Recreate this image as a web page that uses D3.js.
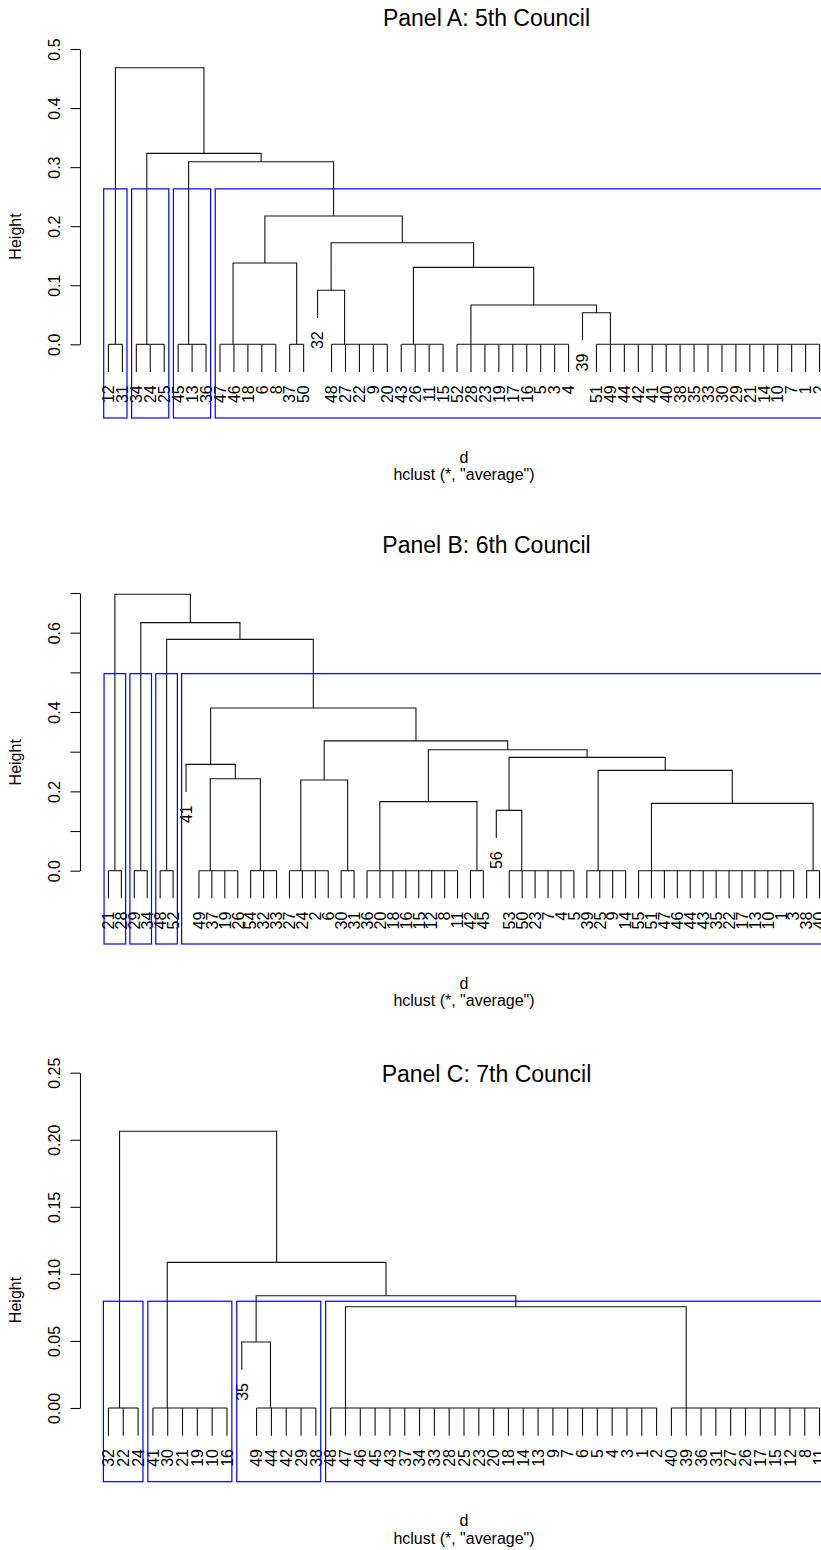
<!DOCTYPE html>
<html><head><meta charset="utf-8">
<script src="https://cdn.jsdelivr.net/npm/d3@7"></script>
<style>html,body{margin:0;padding:0;background:#fff}</style>
</head><body>
<svg id="chart" width="821" height="1550" xmlns="http://www.w3.org/2000/svg"></svg>
<script>
// ---------------- DATA ----------------
const titles = ["Panel A: 5th Council", "Panel B: 6th Council", "Panel C: 7th Council"];
const xlabText = "d";
const subText = 'hclust (*, "average")';
const yLabelText = "Height";
const kClusters = 4;

// Groups: leaves tied at height 0 (display order). Singletons hang from their merge.
// Merges: [left, right, height]; negative = group index (1-based), positive = earlier merge row.
const groupsA = [[12,31],[34,24,25],[45,13,36],[47,46,18,6,8],[37,50],[32],[48,27,22,9,20],
  [43,26,11,15],[52,28,23,19,17,16,5,3,4],[39],[51,49,44,42,41,40,38,35,33,30,29,21,14,10,7,1,2]];
const mergesA = [[-10,-11,0.0535],[-9,1,0.0665],[-6,-7,0.0914],[-8,2,0.1303],[-4,-5,0.1376],
  [3,4,0.1720],[5,6,0.2172],[-3,7,0.3092],[-2,8,0.3233],[-1,9,0.4683]];
const ticksA = [0, 0.1, 0.2, 0.3, 0.4, 0.5];
const tickLabelsA = ["0.0","0.1","0.2","0.3","0.4","0.5"];

const groupsB = [[21,28],[29,34],[48,52],[41],[49,37,19,26],[54,32,33],[27,24,2,6],[30,31],
  [36,20,18,16,15,12,8,11],[42,45],[56],[53,50,23,7,4,5],[39,25,9,14],
  [55,51,47,46,44,43,35,22,17,13,10,1,3],[38,40]];
const mergesB = [[-11,-12,0.1521],[-14,-15,0.1697],[-9,-10,0.1742],[-7,-8,0.2286],[-5,-6,0.2319],
  [-13,2,0.2530],[-4,5,0.2681],[1,6,0.2857],[3,8,0.3050],[4,9,0.3273],[7,10,0.4101],
  [-3,11,0.5832],[-2,12,0.6252],[-1,13,0.6967]];
const ticksB = [0, 0.1, 0.2, 0.3, 0.4, 0.5, 0.6, 0.7];
const tickLabelsB = ["0.0","","0.2","","0.4","","0.6",""];

const groupsC = [[32,22,24],[41,30,21,19,10,16],[35],[49,44,42,29,38],
  [48,47,46,45,43,37,34,33,28,25,23,20,18,14,13,9,7,6,5,4,3,1,2],
  [40,39,36,31,27,26,17,15,12,8,11]];
const mergesC = [[-3,-4,0.0492],[-5,-6,0.0755],[1,2,0.0837],[-2,3,0.1086],[-1,4,0.2063]];
const ticksC = [0, 0.05, 0.10, 0.15, 0.20, 0.25];
const tickLabelsC = ["0.00","0.05","0.10","0.15","0.20","0.25"];

// ---------------- LAYOUT ----------------
const FONT = "'Liberation Sans', Arial, Helvetica, sans-serif";
const PLOT_L = 80, PLOT_R = 848;
const panels = [
  {title: titles[0], groups: groupsA, merges: mergesA, ticks: ticksA, tickLabels: tickLabelsA,
   y0: 344.3, yMax: 0.5, yMaxPx: 49, bottom: 418, titleY: 26, ylabY: 236.5, xlabY: 462.5, subY: 479.5},
  {title: titles[1], groups: groupsB, merges: mergesB, ticks: ticksB, tickLabels: tickLabelsB,
   y0: 870.7, yMax: 0.7, yMaxPx: 593, bottom: 944, titleY: 552.5, ylabY: 762.3, xlabY: 988.5, subY: 1005.5},
  {title: titles[2], groups: groupsC, merges: mergesC, ticks: ticksC, tickLabels: tickLabelsC,
   y0: 1408, yMax: 0.25, yMaxPx: 1072.7, bottom: 1481.7, titleY: 1082, ylabY: 1300, xlabY: 1526, subY: 1543.5}
];

const svg = d3.select("#chart");
const LINE = "#111", BLUE = "#0000ff", FS = 16;

panels.forEach(p => {
  const n = d3.sum(p.groups, g => g.length);
  const pad = 0.04 * (n - 1);
  const x = d3.scaleLinear().domain([1 - pad, n + pad]).range([PLOT_L, PLOT_R]);
  const y = d3.scaleLinear().domain([0, p.yMax]).range([p.y0, p.yMaxPx]);
  const maxH = d3.max(p.merges, m => m[2]);
  const hang = 0.1 * maxH;
  const g = svg.append("g");

  // group positions and chain stems
  let pos = 1;
  const groups = p.groups.map(gr => {
    const start = pos; pos += gr.length;
    let s = start + gr.length - 1;
    for (let i = gr.length - 2; i >= 0; i--) s = (start + i + s) / 2;
    return {start, end: start + gr.length - 1, stem: s, leaves: gr, single: gr.length === 1, leafEnd: -hang};
  });
  const mInfo = [];
  function info(ref) {
    if (ref < 0) { const gr = groups[-ref - 1]; return {x: gr.stem, h: 0, lo: gr.start, hi: gr.end, gr}; }
    return mInfo[ref - 1];
  }
  const paths = [];
  p.merges.forEach(([a, b, h]) => {
    const A = info(a), B = info(b);
    const bottomOf = c => {
      if (c.gr && c.gr.single) { c.gr.leafEnd = h - hang; return h - hang; }
      return c.h;
    };
    const ya = bottomOf(A), yb = bottomOf(B);
    paths.push(`M${x(A.x)},${y(ya)}V${y(h)}H${x(B.x)}V${y(yb)}`);
    mInfo.push({x: (A.x + B.x) / 2, h, lo: Math.min(A.lo, B.lo), hi: Math.max(A.hi, B.hi)});
  });
  // tied groups: horizontal at 0 and leaf drops
  groups.forEach(gr => {
    if (gr.single) return;
    paths.push(`M${x(gr.start)},${y(0)}H${x(gr.end)}`);
    for (let i = gr.start; i <= gr.end; i++) paths.push(`M${x(i)},${y(0)}V${y(-hang)}`);
  });
  g.append("g").selectAll("path").data(paths).join("path")
    .attr("d", d => d).attr("fill", "none").attr("stroke", LINE).attr("stroke-width", 1.1);

  // leaf labels
  const labels = [];
  groups.forEach(gr => gr.leaves.forEach((lab, i) => labels.push({lab, p: gr.start + i, end: gr.leafEnd})));
  const off = 0.833 * FS;
  g.append("g").selectAll("text").data(labels).join("text")
    .attr("transform", d => `translate(${x(d.p)},${y(d.end) + off}) rotate(-90)`)
    .attr("dy", "0.36em").attr("text-anchor", "end")
    .attr("font-family", FONT).attr("font-size", FS).attr("fill", "#000")
    .text(d => d.lab);

  // rect.hclust k=4
  const K = kClusters;
  const m = p.merges.length;
  const topRows = d3.range(m - (K - 1), m); // 0-based rows of top merges
  let clusters = [m];  // 1-based ref of root
  for (let r = m; r > m - (K - 1); r--) {
    const idx = clusters.indexOf(r);
    const [a, b] = p.merges[r - 1];
    clusters.splice(idx, 1, a, b);
  }
  const hs = p.merges.map(d => d[2]).sort((a, b) => b - a);
  const rectTop = (hs[K - 2] + hs[K - 1]) / 2;
  const rects = clusters.map(c => info(c)).sort((a, b) => a.lo - b.lo);
  g.append("g").selectAll("rect").data(rects).join("rect")
    .attr("x", d => x(d.lo - 0.34)).attr("y", y(rectTop))
    .attr("width", d => x(d.hi + 0.33) - x(d.lo - 0.34))
    .attr("height", p.bottom - y(rectTop))
    .attr("fill", "none").attr("stroke", BLUE).attr("stroke-width", 1.2);

  // y axis
  const ax = g.append("g").attr("transform", `translate(${PLOT_L},0)`)
    .call(d3.axisLeft(y).tickValues(p.ticks).tickFormat((d, i) => p.tickLabels[i])
      .tickSizeInner(9.6).tickSizeOuter(0));
  ax.select(".domain").attr("stroke", LINE).attr("stroke-width", 1.1);
  ax.selectAll(".tick line").attr("stroke", LINE).attr("stroke-width", 1.1);
  ax.attr("font-family", FONT).attr("font-size", FS);
  ax.selectAll(".tick text").attr("x", null).attr("dy", null)
    .attr("transform", "translate(-20,0) rotate(-90)")
    .attr("text-anchor", "middle").attr("fill", "#000");

  // titles and labels
  g.append("text").attr("x", 486.5).attr("y", p.titleY).attr("text-anchor", "middle")
    .attr("font-family", FONT).attr("font-size", 23).attr("fill", "#000").text(p.title);
  g.append("text").attr("transform", `translate(21,${p.ylabY}) rotate(-90)`).attr("text-anchor", "middle")
    .attr("font-family", FONT).attr("font-size", FS).attr("fill", "#000").text(yLabelText);
  const cx = (PLOT_L + PLOT_R) / 2;
  g.append("text").attr("x", cx).attr("y", p.xlabY).attr("text-anchor", "middle")
    .attr("font-family", FONT).attr("font-size", FS).attr("fill", "#000").text(xlabText);
  g.append("text").attr("x", cx).attr("y", p.subY).attr("text-anchor", "middle")
    .attr("font-family", FONT).attr("font-size", FS).attr("fill", "#000").text(subText);
});
</script>
</body></html>
